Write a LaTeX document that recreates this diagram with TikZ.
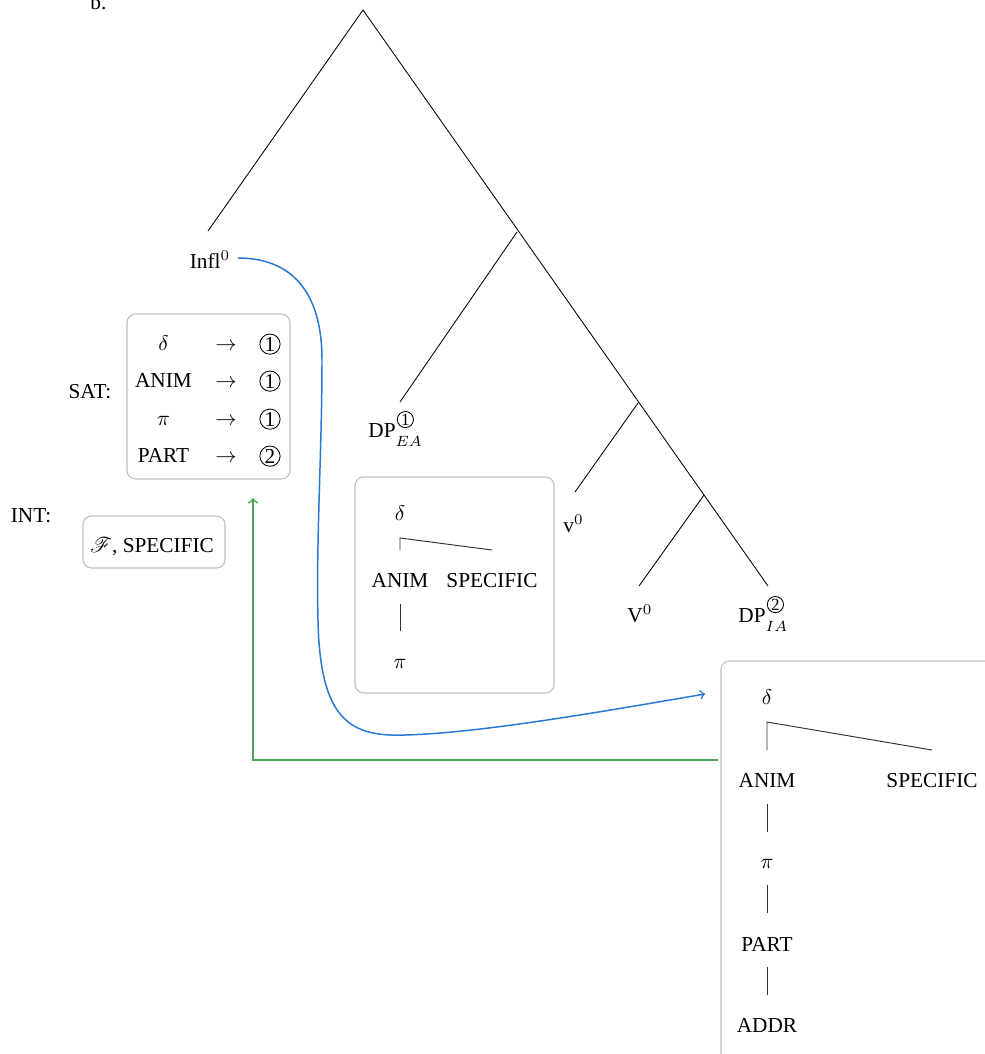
\documentclass[tikz,border=0pt]{standalone}
\usepackage{fontspec}
\setmainfont{Liberation Serif}
\usepackage{mathrsfs}
\definecolor{arrblue}{RGB}{40,120,215}
\definecolor{arrgreen}{RGB}{80,165,90}
\definecolor{boxgray}{RGB}{190,190,190}
\newcommand{\cnum}[1]{\tikz[baseline=-0.6ex]\node[circle,anchor=center,draw=black,line width=0.4pt,inner sep=0.45pt]{#1};}
\newcommand{\supcnum}[1]{\rlap{\kern0.6pt\raisebox{5.9pt}{\tikz[baseline=-0.5ex]\node[circle,anchor=center,draw=black,line width=0.4pt,inner sep=0.35pt,font=\footnotesize]{#1};}}}
\tikzset{
  treeline/.style={line width=0.4pt,black},
  featline/.style={line width=0.45pt,black!80},
  fbox/.style={draw=boxgray,line width=0.5pt,rounded corners=4pt,inner sep=0pt},
  lbl/.style={inner sep=0pt,anchor=base},
  lblw/.style={inner sep=0pt,anchor=base west},
  blueconn/.style={arrblue,line width=0.7pt,->},
  greenconn/.style={arrgreen,line width=0.8pt,->},
}
\begin{document}
\begin{tikzpicture}[x=0.47pt,y=-0.47pt]
\useasboundingbox (0,0) rectangle (985,1054);
% label
\node[lblw] (bl) at (90,10) {b.};
% tree
\coordinate (root) at (363,10);
\coordinate (n1) at (517,232);
\coordinate (n2) at (638,403);
\coordinate (n3) at (704,495);
\coordinate (linfl) at (208,231);
\coordinate (lea) at (400,402);
\coordinate (lv) at (575,492);
\coordinate (lV) at (639,586);
\coordinate (lia) at (768,586);
\draw[treeline] (linfl) -- (root) -- (lia);
\draw[treeline] (n1) -- (lea);
\draw[treeline] (n2) -- (lv);
\draw[treeline] (n3) -- (lV);
\node[lbl] (infl) at (210,268) {Infl$^0$};
\node[lblw] (dpea) at (368,437) {DP\supcnum{1}\raisebox{-4.6pt}{$\scriptstyle EA$}};
\node[lblw] (vl) at (563,532) {v$^0$};
\node[lblw] (Vl) at (627,622) {V$^0$};
\node[lblw] (dpia) at (738,622) {DP\supcnum{2}\raisebox{-4.6pt}{$\scriptstyle IA$}};
% SAT box
\node[fbox,minimum width=163*0.47pt,minimum height=165*0.47pt] (sat) at (208.5,396.5) {};
\node[lbl] (satl) at (90,398) {SAT:};
\node[lbl] (s1a) at (163.5,350) {$\delta$};
\node[lbl] (s1b) at (226,350) {$\rightarrow$};
\node[lbl] (s1c) at (270,350) {\cnum{1}};
\node[lbl] (s2a) at (163.5,387) {ANIM};
\node[lbl] (s2b) at (226,387) {$\rightarrow$};
\node[lbl] (s2c) at (270,387) {\cnum{1}};
\node[lbl] (s3a) at (163.5,425) {$\pi$};
\node[lbl] (s3b) at (226,425) {$\rightarrow$};
\node[lbl] (s3c) at (270,425) {\cnum{1}};
\node[lbl] (s4a) at (163.5,462) {PART};
\node[lbl] (s4b) at (226,462) {$\rightarrow$};
\node[lbl] (s4c) at (270,462) {\cnum{2}};
% INT box
\node[lbl] (intl) at (31,522) {INT:};
\node[fbox,minimum width=142*0.47pt,minimum height=52*0.47pt] (int) at (154,542) {};
\node[lbl] (intt) at (152,552) {$\mathscr{F}$, SPECIFIC};
% middle box
\node[fbox,minimum width=199*0.47pt,minimum height=216*0.47pt] (mbox) at (454.5,585) {};
\node[lbl] (md) at (400,520) {$\delta$};
\node[lbl] (ma) at (400,587) {ANIM};
\node[lbl] (ms) at (492,587) {SPECIFIC};
\node[lbl] (mp) at (400,668) {$\pi$};
\coordinate (mc) at (400,538);
\coordinate (mcl) at (400,550);
\coordinate (mcr) at (492,550);
\draw[featline] (mcl) -- (mc) -- (mcr);
\coordinate (mv1) at (400,604);
\coordinate (mv2) at (400,631);
\draw[featline] (mv1) -- (mv2);
% right box
\node[fbox,minimum width=300*0.47pt,minimum height=420*0.47pt] (rbox) at (871,871) {};
\node[lbl] (rd) at (767,704) {$\delta$};
\node[lbl] (ra) at (767,787) {ANIM};
\node[lbl] (rs) at (932,787) {SPECIFIC};
\node[lbl] (rp) at (767,868) {$\pi$};
\node[lbl] (rpa) at (767,951) {PART};
\node[lbl] (rad) at (767,1032) {ADDR};
\coordinate (rc) at (767,722);
\coordinate (rcl) at (767,750);
\coordinate (rcr) at (932,750);
\draw[featline] (rcl) -- (rc) -- (rcr);
\coordinate (rv1) at (767,804);
\coordinate (rv2) at (767,832);
\coordinate (rv3) at (767,885);
\coordinate (rv4) at (767,913);
\coordinate (rv5) at (767,967);
\coordinate (rv6) at (767,995);
\draw[featline] (rv1) -- (rv2);
\draw[featline] (rv3) -- (rv4);
\draw[featline] (rv5) -- (rv6);
% connectors
\coordinate (bs) at (238,258);
\coordinate (be) at (705,694);
\draw[blueconn] (bs) .. controls (290,258) and (322,290) .. (322,360)
  .. controls (322,450) and (316,540) .. (318,620)
  .. controls (320,720) and (350,737) .. (405,735)
  .. controls (480,733) and (600,712) .. (be);
\coordinate (gs) at (718,760);
\coordinate (gc) at (253,760);
\coordinate (ge) at (253,498);
\draw[greenconn] (gs) -- (gc) -- (ge);
\end{tikzpicture}
\end{document}
